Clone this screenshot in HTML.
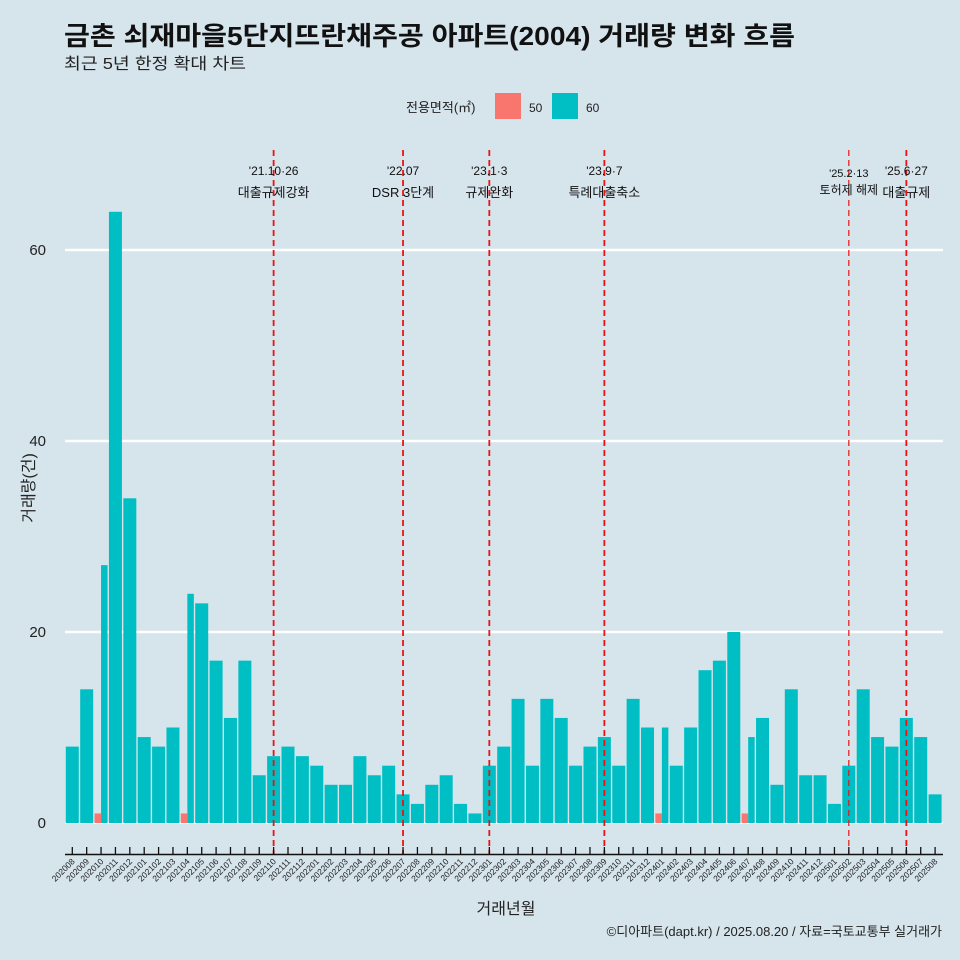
<!DOCTYPE html>
<html><head><meta charset="utf-8"><style>
body{margin:0;background:#d6e4ec;}
svg{display:block;font-family:"Liberation Sans","Noto Sans CJK KR",sans-serif;}
</style></head><body>
<svg id="c" width="960" height="960" viewBox="0 0 960 960">
<rect width="960" height="960" fill="#d6e4ec"/>
<text x="64" y="45" font-size="26" font-weight="bold" fill="#111" textLength="731" lengthAdjust="spacingAndGlyphs">금촌 쇠재마을5단지뜨란채주공 아파트(2004) 거래량 변화 흐름</text>
<text x="64" y="69" font-size="16" fill="#222" textLength="182" lengthAdjust="spacingAndGlyphs">최근 5년 한정 확대 차트</text>
<g>
<text x="406" y="112" font-size="13" fill="#222">전용면적(㎡)</text>
<rect x="495" y="93" width="26" height="26" fill="#f8766d"/>
<text x="529" y="112" font-size="12" fill="#222">50</text>
<rect x="552" y="93" width="26" height="26" fill="#00bfc4"/>
<text x="586" y="112" font-size="12" fill="#222">60</text>
</g>
<g id="grid"></g><g id="bars"></g><g id="ann"></g><g id="xaxis"></g>
<text transform="translate(34,488) rotate(-90)" text-anchor="middle" font-size="16" fill="#222">거래량(건)</text>
<text x="506" y="914" text-anchor="middle" font-size="16" fill="#222">거래년월</text>
<text x="942" y="936" text-anchor="end" font-size="13" fill="#222">©디아파트(dapt.kr) / 2025.08.20 / 자료=국토교통부 실거래가</text>
</svg>
<script>
const categories=["202008","202009","202010","202011","202012","202101","202102","202103","202104","202105","202106","202107","202108","202109","202110","202111","202112","202201","202202","202203","202204","202205","202206","202207","202208","202209","202210","202211","202212","202301","202302","202303","202304","202305","202306","202307","202308","202309","202310","202311","202312","202401","202402","202403","202404","202405","202406","202407","202408","202409","202410","202411","202412","202501","202502","202503","202504","202505","202506","202507","202508"];
const series60=[8,14,27,64,34,9,8,10,24,23,17,11,17,5,7,8,7,6,4,4,7,5,6,3,2,4,5,2,1,6,8,13,6,13,11,6,8,9,6,13,10,10,6,10,16,17,20,9,11,4,14,5,5,2,6,14,9,8,11,9,3];
const series50=[0,0,1,0,0,0,0,0,1,0,0,0,0,0,0,0,0,0,0,0,0,0,0,0,0,0,0,0,0,0,0,0,0,0,0,0,0,0,0,0,0,1,0,0,0,0,0,1,0,0,0,0,0,0,0,0,0,0,0,0,0];
const yTicks=[0,20,40,60];
const eventCats=["202110","202207","202301","202309","202502","202506"];
const eventDates=["'21.10·26","'22.07","'23.1·3","'23.9·7","'25.2·13","'25.6·27"];
const eventLabels=["대출규제강화","DSR 3단계","규제완화","특례대출축소","토허제 해제","대출규제"];
const NS="http://www.w3.org/2000/svg";
const x0=72.3,step=14.38,y0=823,ppu=9.55;
const X=i=>x0+i*step, Y=v=>y0-v*ppu;
function mk(t,a,p){const e=document.createElementNS(NS,t);for(const k in a)e.setAttribute(k,a[k]);p.appendChild(e);return e;}
const grid=document.getElementById('grid');
yTicks.forEach(v=>{
 const l=mk('line',{x1:65,x2:943,y1:Y(v),y2:Y(v),stroke:'#fff','stroke-width':v===0?1.5:2.5},grid);
 
 
 const t=mk('text',{x:46,y:Y(v)+5,'text-anchor':'end','font-size':15,fill:'#222'},grid);
 t.textContent=v;
 
 
});
const bars=document.getElementById('bars');
const bw=13;
categories.forEach((c,i)=>{
 const cx=X(i);
 const both=series50[i]>0&&series60[i]>0;
 if(series50[i]>0){
  const w=both?bw/2:bw, x=cx-bw/2;
  const r=mk('rect',{x:x,y:Y(series50[i]),width:w,height:series50[i]*ppu,fill:'#f8766d'},bars);
  
  
 }
 if(series60[i]>0){
  const w=both?bw/2:bw, x=both?cx:cx-bw/2;
  const r=mk('rect',{x:x,y:Y(series60[i]),width:w,height:series60[i]*ppu,fill:'#00bfc4'},bars);
  
  
 }
});
const ann=document.getElementById('ann');
eventCats.forEach((c,k)=>{
 const i=categories.indexOf(c), x=X(i);
 const small=(c==="202502");
 const l=mk('line',{x1:x,x2:x,y1:150,y2:855,stroke:'#ee1111','stroke-width':small?1.2:1.8,'stroke-dasharray':'6,4'},ann);
 
 
 const t1=mk('text',{x:x,y:small?177:175,'text-anchor':'middle','font-size':small?11:12,fill:'#111'},ann);
 t1.textContent=eventDates[k];
 
 
 const t2=mk('text',{x:x,y:small?194:197,'text-anchor':'middle','font-size':small?12:13,fill:'#111'},ann);
 t2.textContent=eventLabels[k];
 
 
});
const xa=document.getElementById('xaxis');
const al=mk('line',{x1:65,x2:943,y1:854.5,y2:854.5,stroke:'#111','stroke-width':1.5},xa);


categories.forEach((c,i)=>{
 const x=X(i);
 const tk=mk('line',{x1:x,x2:x,y1:847,y2:855,stroke:'#111','stroke-width':1.3},xa);
 
 
 const t=mk('text',{x:x+3,y:862,'text-anchor':'end','font-size':8.5,fill:'#222',transform:`rotate(-45 ${x+3} 862)`},xa);
 t.textContent=c;
 
 
});
</script>
</body></html>
